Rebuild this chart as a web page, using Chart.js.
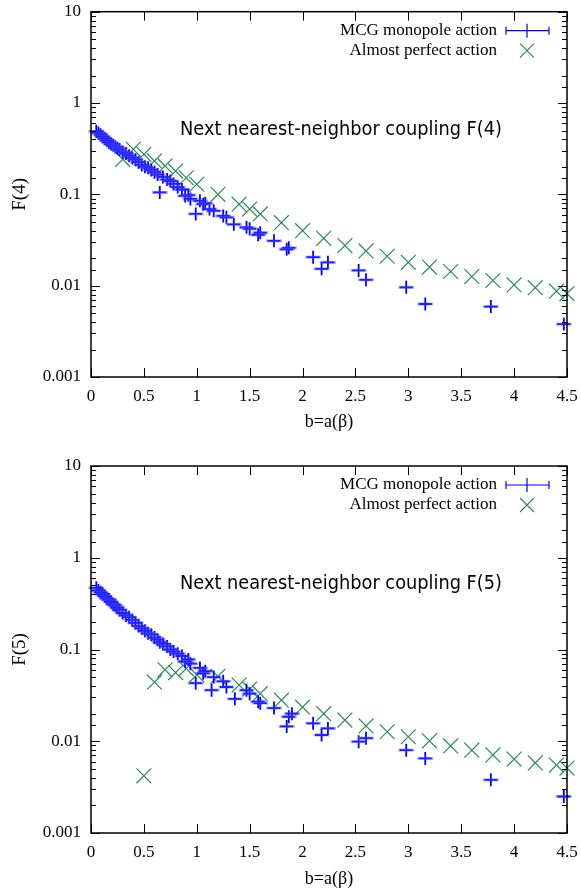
<!DOCTYPE html>
<html>
<head>
<meta charset="utf-8">
<script src="https://cdn.jsdelivr.net/npm/chart.js@4/dist/chart.umd.min.js"></script>
<style>
  body { margin: 0; background: #fff; }
  .box { position: relative; width: 581px; }
</style>
</head>
<body>
<div class="box" style="height:447px"><canvas id="chartF4"></canvas></div>
<div class="box" style="height:447px"><canvas id="chartF5"></canvas></div>
<script>
// x axis ticks
const bTicks = [0, 0.5, 1, 1.5, 2, 2.5, 3, 3.5, 4, 4.5];

// F(4): MCG monopole action
const mcgB4 = [0.05, 0.07, 0.09, 0.11, 0.13, 0.15, 0.17, 0.19, 0.21, 0.23, 0.25, 0.27, 0.30, 0.33, 0.36, 0.39, 0.42, 0.45, 0.48, 0.51,
  0.54, 0.57, 0.60, 0.63, 0.65, 0.68, 0.72, 0.75, 0.78, 0.82, 0.86, 0.89, 0.92, 0.94, 0.99, 1.03, 1.06, 1.08, 1.12, 1.16,
  1.25, 1.28, 1.35, 1.47, 1.50, 1.58, 1.60, 1.73, 1.85, 1.87, 2.10, 2.18, 2.24, 2.53, 2.60, 2.98, 3.16, 3.78, 4.47];
const mcgF4 = [0.49, 0.47, 0.45, 0.43, 0.41, 0.39, 0.37, 0.355, 0.345, 0.33, 0.32, 0.31, 0.29, 0.28, 0.265, 0.25, 0.24, 0.225, 0.21, 0.20,
  0.195, 0.185, 0.175, 0.165, 0.105, 0.155, 0.145, 0.14, 0.13, 0.12, 0.113, 0.096, 0.098, 0.089, 0.061, 0.085, 0.078, 0.08, 0.069, 0.066,
  0.058, 0.056, 0.047, 0.0435, 0.042, 0.036, 0.038, 0.031, 0.025, 0.026, 0.0205, 0.0153, 0.018, 0.0147, 0.0116, 0.0096, 0.0063, 0.0059, 0.0038];

// F(4): almost perfect action
const apB4 = [0.3, 0.4, 0.5, 0.6, 0.7, 0.8, 0.9, 1.0, 1.2, 1.4, 1.5, 1.6, 1.8, 2.0, 2.2, 2.4, 2.6, 2.8, 3.0, 3.2, 3.4, 3.6, 3.8, 4.0, 4.2, 4.4, 4.5];
const apF4 = [0.242, 0.311, 0.274, 0.232, 0.205, 0.180, 0.152, 0.129, 0.100, 0.078, 0.069, 0.061, 0.049, 0.040, 0.033, 0.0275, 0.024,
  0.021, 0.018, 0.016, 0.0143, 0.0126, 0.0114, 0.0102, 0.0095, 0.0087, 0.0082];

// F(5): MCG monopole action
const mcgB5 = [0.05, 0.07, 0.09, 0.11, 0.13, 0.15, 0.17, 0.19, 0.21, 0.23, 0.25, 0.27, 0.30, 0.33, 0.36, 0.39, 0.42, 0.45, 0.48, 0.51,
  0.54, 0.57, 0.60, 0.63, 0.65, 0.68, 0.72, 0.75, 0.78, 0.82, 0.86, 0.89, 0.92, 0.94, 0.99, 1.03, 1.06, 1.08, 1.14, 1.16,
  1.25, 1.28, 1.36, 1.47, 1.50, 1.58, 1.60, 1.73, 1.85, 1.87, 1.90, 2.10, 2.18, 2.24, 2.53, 2.60, 2.98, 3.16, 3.78, 4.47];
const mcgF5 = [0.47, 0.44, 0.42, 0.40, 0.38, 0.36, 0.35, 0.33, 0.31, 0.30, 0.285, 0.27, 0.25, 0.235, 0.225, 0.21, 0.195, 0.18, 0.17, 0.16,
  0.15, 0.145, 0.135, 0.128, 0.12, 0.115, 0.108, 0.10, 0.095, 0.09, 0.085, 0.074, 0.078, 0.07, 0.043, 0.063, 0.055, 0.058, 0.036, 0.05,
  0.045, 0.039, 0.029, 0.036, 0.033, 0.027, 0.026, 0.023, 0.0145, 0.0185, 0.020, 0.0157, 0.0117, 0.0138, 0.0099, 0.0108, 0.008, 0.0065, 0.0038, 0.0025];

// F(5): almost perfect action
const apB5 = [0.5, 0.6, 0.7, 0.8, 0.9, 1.0, 1.2, 1.4, 1.5, 1.6, 1.8, 2.0, 2.2, 2.4, 2.6, 2.8, 3.0, 3.2, 3.4, 3.6, 3.8, 4.0, 4.2, 4.4, 4.5];
const apF5 = [0.0042, 0.044, 0.060, 0.056, 0.062, 0.053, 0.051, 0.041, 0.037, 0.033, 0.028, 0.0235, 0.020, 0.017, 0.0147, 0.0127,
  0.0112, 0.0101, 0.0089, 0.0080, 0.0071, 0.0064, 0.0058, 0.0055, 0.0051];

const BLUE = '#0000ff';
const GREEN = 'rgb(46,139,87)';
const SERIF = "'Liberation Serif', 'Times New Roman', serif";

const toPoints = (xs, ys) => xs.map((b, i) => ({ x: b, y: ys[i] }));
const isDecade = (v) => Math.abs(Math.log10(v) - Math.round(Math.log10(v))) < 1e-6;

// gnuplot style: frame, inward ticks on all four sides, legend and note
const gnuplotLook = {
  id: 'gnuplotLook',
  afterDraw(chart, args, opts) {
    const { ctx, chartArea: a, scales: { x, y } } = chart;
    ctx.save();
    ctx.strokeStyle = '#000';
    ctx.lineWidth = 1;
    ctx.beginPath();
    x.ticks.forEach((t) => {
      const px = Math.round(x.getPixelForValue(t.value)) + 0.5;
      ctx.moveTo(px, a.bottom); ctx.lineTo(px, a.bottom - 9);
      ctx.moveTo(px, a.top); ctx.lineTo(px, a.top + 9);
    });
    y.ticks.forEach((t) => {
      const py = Math.round(y.getPixelForValue(t.value)) + 0.5;
      const len = isDecade(t.value) ? 9 : 5;
      ctx.moveTo(a.left, py); ctx.lineTo(a.left + len, py);
      ctx.moveTo(a.right, py); ctx.lineTo(a.right - len, py);
    });
    ctx.stroke();
    ctx.lineWidth = 1.5;
    ctx.strokeRect(a.left, a.top, a.right - a.left, a.bottom - a.top);

    // note inside the plot
    ctx.fillStyle = '#000';
    ctx.font = "20px 'DejaVu Sans', sans-serif";
    ctx.textBaseline = 'middle';
    ctx.textAlign = 'left';
    const nw = ctx.measureText(opts.note).width;
    const nsx = 322 / nw;
    ctx.save();
    ctx.translate(a.left + 89, a.top + 118);
    ctx.scale(nsx, 1);
    ctx.fillText(opts.note, 0, 0);
    ctx.restore();

    // legend, text right aligned, symbols to the right
    ctx.font = '17px ' + SERIF;
    const lw = ctx.measureText('MCG monopole action').width;
    const lsx = 157 / lw;
    const textRight = a.left + 406;
    const symX = a.left + 436;
    const rows = [a.top + 19, a.top + 39];
    ['MCG monopole action', 'Almost perfect action'].forEach((txt, i) => {
      ctx.save();
      ctx.translate(textRight, rows[i]);
      ctx.scale(lsx, 1);
      ctx.textAlign = 'right';
      ctx.fillText(txt, 0, 0);
      ctx.restore();
    });
    ctx.lineWidth = 1.2;
    ctx.strokeStyle = BLUE;
    ctx.beginPath();
    ctx.moveTo(symX - 21, rows[0]); ctx.lineTo(symX + 22, rows[0]);
    ctx.moveTo(symX - 21, rows[0] - 4); ctx.lineTo(symX - 21, rows[0] + 4);
    ctx.moveTo(symX + 22, rows[0] - 4); ctx.lineTo(symX + 22, rows[0] + 4);
    ctx.moveTo(symX, rows[0] - 7); ctx.lineTo(symX, rows[0] + 7);
    ctx.stroke();
    ctx.strokeStyle = GREEN;
    ctx.beginPath();
    ctx.moveTo(symX - 7, rows[1] - 7); ctx.lineTo(symX + 7, rows[1] + 7);
    ctx.moveTo(symX - 7, rows[1] + 7); ctx.lineTo(symX + 7, rows[1] - 7);
    ctx.stroke();
    ctx.restore();
  }
};

function makeChart(id, mcg, ap, cfg) {
  return new Chart(document.getElementById(id), {
    type: 'scatter',
    data: {
      datasets: [
        {
          // faint horizontal halo under the crosses (error bar look)
          label: 'MCG halo',
          data: mcg,
          pointStyle: 'line',
          pointRadius: 8,
          pointHoverRadius: 8,
          borderColor: 'rgba(70,70,255,0.45)',
          borderWidth: 3,
          clip: false,
        },
        {
          label: 'MCG monopole action',
          data: mcg,
          pointStyle: 'cross',
          pointRadius: 6.5,
          pointHoverRadius: 6.5,
          borderColor: BLUE,
          backgroundColor: BLUE,
          borderWidth: 1.8,
          clip: false,
        },
        {
          label: 'Almost perfect action',
          data: ap,
          pointStyle: 'crossRot',
          pointRadius: 10.5,
          pointHoverRadius: 10.5,
          borderColor: GREEN,
          backgroundColor: GREEN,
          borderWidth: 1.2,
          clip: false,
        },
      ],
    },
    options: {
      responsive: true,
      maintainAspectRatio: false,
      animation: false,
      layout: { padding: { top: cfg.top, right: 14, left: 0, bottom: 0 } },
      plugins: {
        legend: { display: false },
        tooltip: { enabled: false },
        gnuplotLook: { note: cfg.note },
      },
      scales: {
        x: {
          type: 'linear',
          min: 0,
          max: 4.5,
          afterBuildTicks: (scale) => {
            scale.ticks = bTicks.map((v) => ({ value: v }));
          },
          afterFit: (scale) => {
            scale.height = cfg.xHeight;
            scale.paddingLeft = 0;
            scale.paddingRight = 0;
          },
          grid: { display: false, drawTicks: false },
          border: { display: false },
          ticks: {
            autoSkip: false,
            maxRotation: 0,
            padding: 9,
            color: '#000',
            font: { family: SERIF, size: 17 },
            callback: (v) => String(v),
          },
          title: {
            display: true,
            text: 'b=a(β)',
            color: '#000',
            font: { family: SERIF, size: 18 },
            padding: { top: 0, bottom: cfg.titlePad },
          },
        },
        y: {
          type: 'logarithmic',
          min: 0.001,
          max: 10,
          afterFit: (scale) => {
            scale.width = 91;
            scale.paddingTop = 0;
            scale.paddingBottom = 0;
          },
          grid: { display: false, drawTicks: false },
          border: { display: false },
          ticks: {
            autoSkip: false,
            padding: 10,
            color: '#000',
            font: { family: SERIF, size: 17 },
            callback: (v) => (isDecade(v) ? String(Number(v.toPrecision(1))) : ''),
          },
          title: {
            display: true,
            text: cfg.yTitle,
            color: '#000',
            font: { family: SERIF, size: 19 },
            padding: { top: 9, bottom: 0 },
          },
        },
      },
    },
    plugins: [gnuplotLook],
  });
}

makeChart('chartF4', toPoints(mcgB4, mcgF4), toPoints(apB4, apF4), {
  top: 10, xHeight: 70, titlePad: 14,
  yTitle: 'F(4)', note: 'Next nearest-neighbor coupling F(4)',
});
makeChart('chartF5', toPoints(mcgB5, mcgF5), toPoints(apB5, apF5), {
  top: 19, xHeight: 61, titlePad: 4,
  yTitle: 'F(5)', note: 'Next nearest-neighbor coupling F(5)',
});
</script>
</body>
</html>
